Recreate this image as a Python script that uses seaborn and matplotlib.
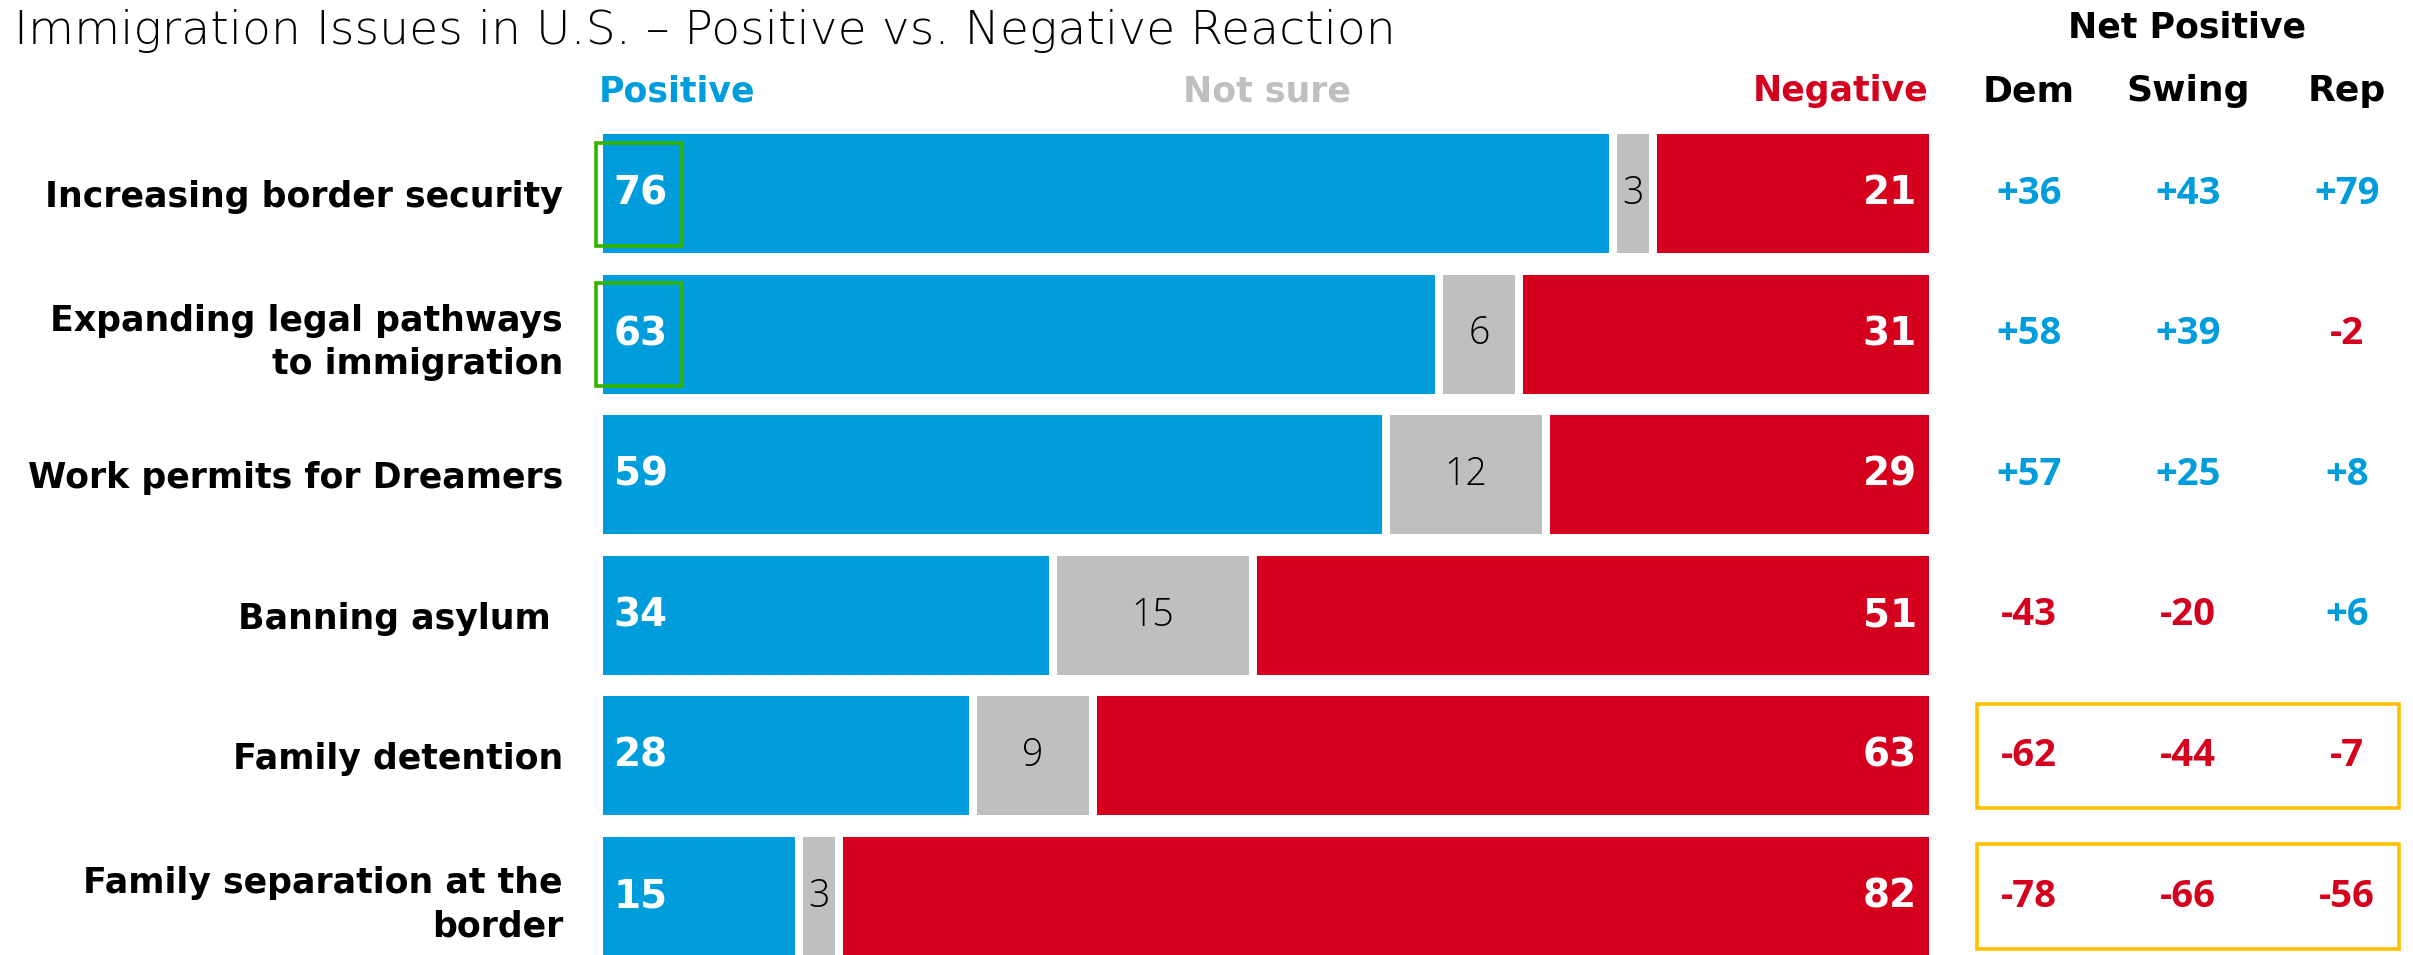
import matplotlib
matplotlib.use("Agg")
import matplotlib.pyplot as plt
from matplotlib.patches import Rectangle
import seaborn as sns
import pandas as pd
import numpy as np

# ---------------- data ----------------
issues = [
    "Increasing border security",
    "Expanding legal pathways\nto immigration",
    "Work permits for Dreamers",
    "Banning asylum ",
    "Family detention",
    "Family separation at the\nborder",
]
positive = [76, 63, 59, 34, 28, 15]
not_sure = [3, 6, 12, 15, 9, 3]
negative = [21, 31, 29, 51, 63, 82]

net_groups = ["Dem", "Swing", "Rep"]
net_dem = [36, 58, 57, -43, -62, -78]
net_swing = [43, 39, 25, -20, -44, -66]
net_rep = [79, -2, 8, 6, -7, -56]

green_rows = [0, 1]      # highlighted positive values
orange_rows = [4, 5]     # highlighted net rows

title = "Immigration Issues in U.S. \u2013 Positive vs. Negative Reaction"

# ---------------- style ----------------
BLUE = "#009DDC"
RED = "#D5001E"
GRAY = "#BFBFBF"
GRAY_TXT = "#BFBFBF"
GREEN = "#33B300"
ORANGE = "#FFC000"

sns.set_theme(style="white")
plt.rcParams["font.family"] = ["DejaVu Sans"]
BOLD_FONT = ["DejaVu Sans"]
NUM_FONT = ["Open Sans", "DejaVu Sans"]

W, H = 2413, 955
DPI = 100
fig = plt.figure(figsize=(W / DPI, H / DPI), dpi=DPI)

def fx(px):
    return px / W

def fy(py):
    return 1 - py / H

# main bar axes geometry (pixels)
pitch = 140.6
row0 = 193.5
x0_px, x100_px = 599, 1933
top_px = row0 - pitch / 2
n = len(issues)
ybottom = (n - 1) + (H - (row0 + (n - 1) * pitch)) / pitch

ax = fig.add_axes([fx(x0_px), 0, fx(x100_px) - fx(x0_px), fy(top_px)])

df = pd.DataFrame({
    "issue": issues,
    "pos": positive,
    "ns": not_sure,
    "neg": negative,
})
df["pos_ns"] = df["pos"] + df["ns"]
df["total"] = df["pos_ns"] + df["neg"]

bar_w = 127 / pitch
edge_lw = 8 * 72 / DPI
common = dict(orient="h", width=bar_w, edgecolor="white", linewidth=edge_lw,
              order=issues, ax=ax, saturation=1)
sns.barplot(data=df, y="issue", x="total", color=RED, **common)
sns.barplot(data=df, y="issue", x="pos_ns", color=GRAY, **common)
sns.barplot(data=df, y="issue", x="pos", color=BLUE, **common)

ax.set_xlim(0, 100)
ax.set_ylim(ybottom, -0.5)
for s in ax.spines.values():
    s.set_visible(False)
ax.set_xlabel("")
ax.set_ylabel("")
ax.set_xticks([])
ax.tick_params(axis="y", length=0, pad=26)
ax.set_yticks(range(n))
ax.set_yticklabels(issues, fontsize=25, fontweight="bold", color="black",
                   linespacing=1.35, family=BOLD_FONT)

# value labels
for i, (p, u, g) in enumerate(zip(positive, not_sure, negative)):
    ax.annotate(str(p), xy=(0, i), xytext=(10.5, 0), textcoords="offset points",
                ha="left", va="center", color="white", fontsize=28,
                fontweight="bold", family=BOLD_FONT)
    ax.annotate(str(u), xy=(p + u / 2, i), ha="center", va="center",
                color="black", fontsize=27, fontweight="light",
                family=NUM_FONT)
    ax.annotate(str(g), xy=(100, i), xytext=(-11.5, 0), textcoords="offset points",
                ha="right", va="center", color="white", fontsize=28,
                fontweight="bold", family=BOLD_FONT)

# green highlight boxes
for r in green_rows:
    ax.add_patch(Rectangle((-0.25, r - 0.36), 6.45, 0.73, fill=False,
                           edgecolor=GREEN, linewidth=2.6, clip_on=False,
                           zorder=5))

# net positive table axes
c0_px, c_step = 2029, 159
tl_px, tr_px = 1950, 2413
tax = fig.add_axes([fx(tl_px), 0, fx(tr_px) - fx(tl_px), fy(top_px)])
tax.set_xlim((tl_px - c0_px) / c_step, (tr_px - c0_px) / c_step)
tax.set_ylim(ybottom, -0.5)
tax.axis("off")

for j, vals in enumerate([net_dem, net_swing, net_rep]):
    for i, v in enumerate(vals):
        txt = f"+{v}" if v > 0 else f"{v}"
        tax.text(j, i, txt, ha="center", va="center", fontsize=27.5,
                 fontweight="bold", color=BLUE if v > 0 else RED,
                 family=NUM_FONT)

for r in orange_rows:
    tax.add_patch(Rectangle((-0.327, r - 0.37), 2.654, 0.74, fill=False,
                            edgecolor=ORANGE, linewidth=2.6, clip_on=False))

# headers
fig.text(fx(14), fy(44), title, ha="left", va="baseline", fontsize=34,
         fontweight="light", color="black", family=["DejaVu Sans"])
fig.text(fx(599), fy(101), "Positive", ha="left", va="baseline", fontsize=25,
         fontweight="bold", color=BLUE, family=BOLD_FONT)
fig.text(fx(1267), fy(101), "Not sure", ha="center", va="baseline",
         fontsize=25, fontweight="bold", color=GRAY_TXT, family=BOLD_FONT)
fig.text(fx(1928), fy(101), "Negative", ha="right", va="baseline",
         fontsize=25, fontweight="bold", color=RED, family=BOLD_FONT)
fig.text(fx(2187), fy(38), "Net Positive", ha="center", va="baseline",
         fontsize=25, fontweight="bold", color="black", family=BOLD_FONT)
for j, g in enumerate(net_groups):
    fig.text(fx(c0_px + j * c_step), fy(101), g, ha="center", va="baseline",
             fontsize=26, fontweight="bold", color="black", family=BOLD_FONT)

fig.savefig("out.png", dpi=DPI)
